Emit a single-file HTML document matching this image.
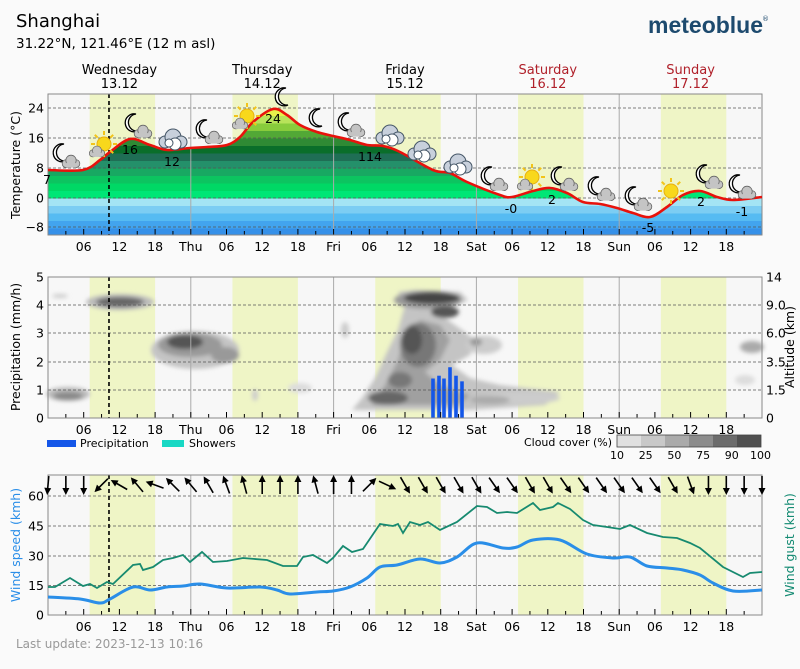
<!DOCTYPE html>
<html><head><meta charset="utf-8"><style>
body{margin:0;background:#fafafa;}
svg{display:block;font-family:"DejaVu Sans","Liberation Sans",sans-serif;}
</style></head><body>
<svg id="s" width="800" height="669" viewBox="0 0 800 669" xmlns="http://www.w3.org/2000/svg">
<defs>
<filter id="bl" x="-20%" y="-20%" width="140%" height="140%"><feGaussianBlur stdDeviation="2"/></filter>
</defs>
<rect width="800" height="669" fill="#fafafa"/>
<text x="16" y="27" font-size="18" fill="#000">Shanghai</text>
<text x="16" y="48" font-size="13.5" fill="#000">31.22°N, 121.46°E (12 m asl)</text>
<text x="648" y="33" font-size="23" font-weight="bold" fill="#1d4a6e" font-family="Liberation Sans,sans-serif">meteoblue</text>
<text x="762" y="21" font-size="7" fill="#1d4a6e">®</text>
<g id="g"></g>
<text x="16" y="648" font-size="12" fill="#999">Last update: 2023-12-13 10:16</text>
</svg>
<script>
const G=document.getElementById('g');
let out='';
const X=h=>48+h*5.95;const L=48,R=762;
function panel(top,bot){
 out+=`<rect x="${L}" y="${top}" width="${R-L}" height="${bot-top}" fill="#f7f7f7"/>`;
 for(let d=0;d<5;d++){out+=`<rect x="${X(d*24+7)}" y="${top}" width="${11*5.95}" height="${bot-top}" fill="#eff5c6"/>`;}
}
function panelOver(top,bot,yticks){
 for(const y of yticks)out+=`<line x1="${L}" x2="${R}" y1="${y}" y2="${y}" stroke="#555" stroke-width="0.8" stroke-dasharray="3,2"/>`;
 for(let d=1;d<5;d++)out+=`<line x1="${X(d*24)}" x2="${X(d*24)}" y1="${top}" y2="${bot}" stroke="#aaa" stroke-width="1"/>`;
 for(let h=3;h<120;h+=3)out+=`<line x1="${X(h)}" x2="${X(h)}" y1="${bot}" y2="${bot-(h%6?4:6)}" stroke="#000" stroke-width="1"/>`;
 out+=`<line x1="${X(10.25)}" x2="${X(10.25)}" y1="${top}" y2="${bot}" stroke="#000" stroke-width="1.6" stroke-dasharray="4,3"/>`;
 out+=`<rect x="${L}" y="${top}" width="${R-L}" height="${bot-top}" fill="none" stroke="#888" stroke-width="1"/>`;
 const dn=['Thu','Fri','Sat','Sun'];
 for(let h=6;h<120;h+=6){let t=h%24==0?dn[h/24-1]:String(h%24).padStart(2,'0');out+=`<text x="${X(h)}" y="${bot+16}" font-size="12.5" text-anchor="middle">${t}</text>`;}
}
const T1=94,B1=235;
panel(T1,B1);
const tp=[[48,170],[83,170],[100,160],[110,152],[130,139],[150,145],[167,150],[190,148],[207,147],[227,145],[240,137],[253,122],[273,109],[287,115],[300,125],[317,132],[333,136],[350,140],[367,145],[383,146],[400,152],[433,170],[450,173],[467,182],[500,195],[512,197],[533,191],[550,188],[567,193],[583,202],[600,204],[617,208],[633,213],[650,217],[667,207],[683,195],[700,191],[717,197],[733,200],[762,197]];
function smooth(p){let d=`M${p[0][0]},${p[0][1]}`;for(let i=0;i<p.length-1;i++){const p0=p[i-1]||p[i],p1=p[i],p2=p[i+1],p3=p[i+2]||p2;const c1=[p1[0]+(p2[0]-p0[0])/6,p1[1]+(p2[1]-p0[1])/6],c2=[p2[0]-(p3[0]-p1[0])/6,p2[1]-(p3[1]-p1[1])/6];d+=` C${c1[0].toFixed(1)},${c1[1].toFixed(1)} ${c2[0].toFixed(1)},${c2[1].toFixed(1)} ${p2[0]},${p2[1]}`;}return d;}
const cd=smooth(tp);
out+=`<clipPath id="tc"><path d="${cd} L${R},${B1} L${L},${B1}Z"/></clipPath>`;
const cols=['#2a75d6','#3590e8','#42a4ee','#56bbf2','#7ccdf3','#a4e4f4','#00e676','#00d865','#0cc460','#18a862','#24906a','#1f6e55','#0a6e2a','#2f8a34','#52a836','#88cc3c','#b8e35a','#e6f04a','#f5ec1e','#f5ec1e'];
out+='<g clip-path="url(#tc)">';
for(let i=0;i<cols.length;i++){const t=-12+i*2;const y1=198-3.75*(t+2),y0=198-3.75*t;out+=`<rect x="${L}" y="${y1}" width="${R-L}" height="${y0-y1+0.5}" fill="${cols[i]}"/>`;}
out+='</g>';
panelOver(T1,B1,[108,138,168,198,227]);
out+=`<path d="${cd}" fill="none" stroke="#e8120c" stroke-width="2.6"/>`;
[[24,108],[16,138],[8,168],[0,198],[-8,227]].forEach(([v,y])=>out+=`<text x="44" y="${y+4.5}" font-size="12.5" text-anchor="end">${v<0?'−'+(-v):v}</text>`);
out+=`<text transform="translate(20,165) rotate(-90)" font-size="12.5" text-anchor="middle">Temperature (°C)</text>`;
[['7',47,184],['16',130,154],['12',172,166],['24',273,123],['11',366,161],['14',374,161],['-0',511,213],['2',552,204],['-5',648,232],['2',701,206],['-1',742,216]].forEach(([t,x,y])=>out+=`<text x="${x}" y="${y}" font-size="12.5" text-anchor="middle">${t}</text>`);
const days=[['Wednesday','13.12','#000'],['Thursday','14.12','#000'],['Friday','15.12','#000'],['Saturday','16.12','#b0202a'],['Sunday','17.12','#b0202a']];
days.forEach((d,i)=>{const x=X(i*24+12);out+=`<text x="${x}" y="74" font-size="13" text-anchor="middle" fill="${d[2]}">${d[0]}</text><text x="${x}" y="88" font-size="13" text-anchor="middle" fill="${d[2]}">${d[1]}</text>`;});
function moon(x,y){out+=`<path d="M${x+3},${y-9} A9,9 0 1,0 ${x+5},${y+8} A7.5,7.5 0 1,1 ${x+3},${y-9}Z" fill="#fff" stroke="#000" stroke-width="1.3"/>`;}
function cloud(x,y,s=1){out+=`<g transform="translate(${x},${y}) scale(${s})" fill="#c4c4c4" stroke="#666" stroke-width="1"><circle cx="-6" cy="2" r="5"/><circle cx="6" cy="2" r="5"/><circle cx="0" cy="-2" r="6.5"/><rect x="-6" y="1" width="12" height="6" stroke="none"/></g>`;}
function wcloud(x,y){out+=`<g transform="translate(${x},${y})" stroke="#456" stroke-width="1"><circle cx="-8" cy="2" r="6" fill="#c8d0dc"/><circle cx="0" cy="-3" r="8" fill="#c8d0dc"/><circle cx="8" cy="2" r="6" fill="#c8d0dc"/><circle cx="2" cy="4" r="6" fill="#fff"/><circle cx="-4" cy="3" r="4" fill="#fff"/></g>`;}
function sun(x,y){let r='';for(let a=0;a<360;a+=45){const c=Math.cos(a*Math.PI/180),s=Math.sin(a*Math.PI/180);r+=`<line x1="${x+c*9}" y1="${y+s*9}" x2="${x+c*13}" y2="${y+s*13}" stroke="#f2c41a" stroke-width="2"/>`;}out+=r+`<circle cx="${x}" cy="${y}" r="7" fill="#f8d81c" stroke="#e8b010"/>`;}
function mc(x,y){moon(x-4,y-4);cloud(x+6,y+5,0.8);}
function sc(x,y){sun(x+4,y-4);cloud(x-3,y+4,0.7);}
mc(65,157);sc(100,148);mc(137,127);wcloud(173,140);mc(208,133);sc(243,120);moon(283,97);moon(317,118);mc(350,126);wcloud(390,136);wcloud(422,152);wcloud(458,165);mc(493,180);sc(528,181);mc(563,180);mc(600,190);mc(637,200);sun(671,191);mc(708,178);mc(741,188);
const T2=277,B2=418;
panel(T2,B2);
out+='<g filter="url(#bl)">';
out+=`<path d="M352,410 L362,398 L375,378 L388,350 L398,330 L405,305 L398,292 L415,290 L460,292 L468,300 L450,308 L445,318 L462,330 L475,340 L470,355 L452,365 L470,378 L500,385 L560,392 L545,405 L470,410 Z" fill="#c4c4c4"/>`;
out+=`<path d="M372,405 L385,385 L398,360 L405,335 L420,320 L440,325 L450,340 L440,360 L425,372 L440,385 L470,395 L460,405 Z" fill="#a0a0a0"/>`;
const blobs=[
[120,302,34,8,'#bbb'],[120,302,24,5,'#666'],[60,296,8,2,'#ccc'],
[68,394,22,7,'#bbb'],[68,396,15,4,'#888'],
[195,350,44,19,'#c4c4c4'],[190,345,32,12,'#999'],[185,342,18,7,'#555'],[225,355,14,8,'#999'],
[255,395,3,6,'#ccc'],[345,330,4,8,'#ccc'],
[428,300,34,9,'#999'],[432,298,28,6,'#444'],[445,312,14,6,'#555'],
[418,345,18,22,'#777'],[412,340,10,14,'#555'],[400,380,12,8,'#777'],
[388,398,20,7,'#666'],
[484,345,18,9,'#ccc'],[476,342,6,4,'#999'],[520,398,40,6,'#ccc'],[490,400,20,4,'#aaa'],
[752,347,12,6,'#aaa'],[745,380,10,5,'#ddd'],[300,388,12,5,'#ddd']];
blobs.forEach(b=>out+=`<ellipse cx="${b[0]}" cy="${b[1]}" rx="${b[2]}" ry="${b[3]}" fill="${b[4]}"/>`);
out+='</g>';
[[433,1.4],[439,1.5],[444,1.4],[450,1.8],[456,1.5],[462,1.3]].forEach(([x,v])=>out+=`<rect x="${x-1.8}" y="${B2-v*28.2}" width="3.6" height="${v*28.2}" fill="#1456e8"/>`);
const py=[418,390,362,333,305,277];
panelOver(T2,B2,py.slice(1,5));
py.forEach((y,i)=>out+=`<text x="44" y="${y+4.5}" font-size="12.5" text-anchor="end">${i}</text>`);
['0','1.5','3.5','6.0','9.0','14'].forEach((t,i)=>out+=`<text x="766" y="${py[i]+4.5}" font-size="12.5">${t}</text>`);
out+=`<text transform="translate(20,347) rotate(-90)" font-size="12.5" text-anchor="middle">Precipitation (mm/h)</text>`;
out+=`<text transform="translate(794,347) rotate(-90)" font-size="12.5" text-anchor="middle">Altitude (km)</text>`;
out+=`<rect x="47" y="440" width="29" height="7" fill="#1456e8"/><text x="80" y="447" font-size="11">Precipitation</text>`;
out+=`<rect x="162" y="440" width="22" height="7" fill="#18d8c4"/><text x="189" y="447" font-size="11">Showers</text>`;
out+=`<text x="612" y="446" font-size="11" text-anchor="end">Cloud cover (%)</text>`;
['#e0e0e0','#c8c8c8','#aaaaaa','#8c8c8c','#6c6c6c','#505050'].forEach((c,i)=>out+=`<rect x="${617+i*24}" y="435" width="24" height="12" fill="${c}"/>`);
out+=`<rect x="617" y="435" width="144" height="12" fill="none" stroke="#444" stroke-width="0.8"/>`;
['10','25','50','75','90','100'].forEach((t,i)=>out+=`<text x="${617+i*28.7}" y="459" font-size="11" text-anchor="middle">${t}</text>`);
const T3=475,B3=615;
panel(T3,B3);
const wy=[615,585.5,556,526,496];
panelOver(T3,B3,wy.slice(1));
wy.forEach((y,i)=>out+=`<text x="44" y="${y+4.5}" font-size="12.5" text-anchor="end">${i*15}</text>`);
out+=`<text transform="translate(20,545) rotate(-90)" font-size="12.5" text-anchor="middle" fill="#2a8ee8">Wind speed (kmh)</text>`;
out+=`<text transform="translate(794,545) rotate(-90)" font-size="12.5" text-anchor="middle" fill="#138a72">Wind gust (kmh)</text>`;
const gust=[[48,587],[55,587],[70,578],[83,586],[90,584],[97,588],[107,582],[113,584],[133,565],[140,564],[143,570],[153,567],[163,560],[173,558],[183,555],[190,562],[202,552],[213,562],[227,561],[243,558],[267,560],[283,566],[297,566],[303,557],[313,555],[327,563],[333,558],[343,546],[352,552],[363,549],[380,524],[393,526],[398,524],[403,533],[410,522],[420,525],[428,522],[440,530],[457,522],[477,506],[487,507],[497,513],[507,512],[517,513],[533,503],[540,510],[553,507],[558,503],[570,509],[583,520],[593,525],[607,527],[620,529],[630,525],[647,533],[663,537],[677,538],[690,543],[700,548],[723,567],[743,577],[750,573],[762,572]];
const ws=[[48,597],[80,599],[100,603],[110,599],[133,587],[150,590],[167,587],[183,586],[200,584],[227,588],[260,587],[277,590],[290,594],[317,592],[333,591],[350,587],[367,578],[380,567],[397,565],[420,559],[440,563],[457,557],[477,543],[503,548],[517,547],[533,540],[560,540],[587,554],[613,558],[630,557],[647,566],[667,568],[683,570],[700,575],[713,583],[733,591],[762,590]];
out+=`<polyline points="${gust.map(p=>p.join(',')).join(' ')}" fill="none" stroke="#178a70" stroke-width="1.8"/>`;
out+=`<path d="${smooth(ws)}" fill="none" stroke="#2a8ee8" stroke-width="3"/>`;
const ang=[185,180,180,225,300,320,290,315,320,330,340,345,0,0,0,345,0,0,45,115,150,150,150,150,150,145,145,150,150,145,145,145,145,145,145,150,160,180,180,180,180];
ang.forEach((a,k)=>{const x=48+k*17.85,y=485;out+=`<g transform="translate(${x},${y}) rotate(${a})"><line x1="0" y1="9" x2="0" y2="-7" stroke="#000" stroke-width="1.6"/><path d="M0,-10 L-3.5,-3 L3.5,-3Z" fill="#000"/></g>`;});
G.innerHTML=out;
</script>
</body></html>
